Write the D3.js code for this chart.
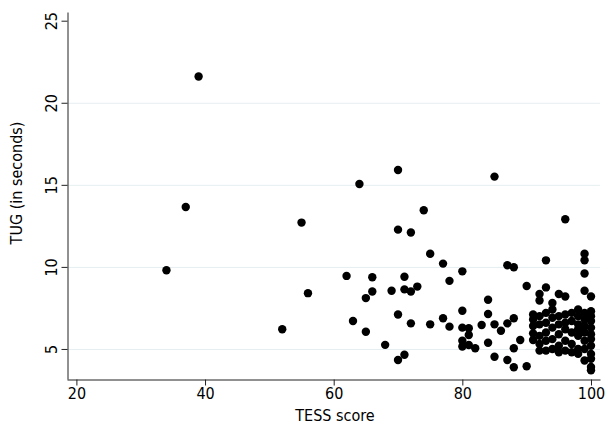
<!DOCTYPE html>
<html>
<head>
<meta charset="utf-8">
<script src="https://cdn.jsdelivr.net/npm/d3@7"></script>
<style>
  body { margin: 0; background: #fff; }
  text { font-family: "DejaVu Sans Condensed", "DejaVu Sans", sans-serif; fill: #000; }
</style>
</head>
<body>
<svg id="chart" width="610" height="425"></svg>
<script>
// TESS score (x) and TUG in seconds (y)
var tess = [34, 37, 39, 52, 55, 56, 62, 63, 64, 65, 65, 66, 66, 68, 69,
    70, 70, 70, 70, 71, 71, 71, 72, 72, 72, 73, 74, 75, 75, 77, 77, 78, 78,
    80, 80, 80, 80, 80, 81, 81, 81, 82, 83, 84, 84, 84, 85, 85, 85, 86,
    87, 87, 87, 88, 88, 88, 88, 89, 90, 90,
    91, 91, 91, 91, 91,
    92, 92, 92, 92, 92, 92, 92,
    93, 93, 93, 93, 93, 93, 93,
    94, 94, 94, 94, 94, 94,
    95, 95, 95, 95, 95, 95,
    96, 96, 96, 96, 96, 96, 96,
    97, 97, 97, 97, 97,
    98, 98, 98, 98, 98, 98, 98,
    99, 99, 99, 99, 99, 99, 99, 99, 99, 99, 99,
    100, 100, 100, 100, 100, 100, 100, 100, 100, 100, 100, 100];
var tug = [9.8, 13.65, 21.6, 6.2, 12.7, 8.4, 9.45, 6.7, 15.05, 8.1, 6.05, 9.37, 8.5, 5.25, 8.55,
    15.9, 12.27, 7.1, 4.33, 4.65, 9.4, 8.63, 12.1, 8.5, 6.56, 8.8, 13.45, 10.8, 6.5, 10.2, 6.87, 9.15, 6.36,
    9.73, 7.33, 6.3, 5.5, 5.15, 6.26, 5.85, 5.24, 5.04, 6.46, 8.0, 7.13, 5.38, 6.5, 4.53, 15.5, 6.11,
    10.1, 6.56, 4.33, 9.98, 6.87, 5.04, 3.89, 5.55, 8.84, 3.95,
    7.1, 6.8, 6.4, 5.95, 5.55,
    8.35, 7.95, 7.0, 6.5, 5.8, 5.3, 4.9,
    10.4, 8.75, 7.2, 6.6, 6.0, 5.5, 4.9,
    7.8, 7.4, 6.9, 6.3, 5.6, 5.0,
    8.35, 7.0, 6.5, 5.9, 5.2, 4.8,
    12.9, 8.2, 7.1, 6.6, 6.2, 5.5, 4.9,
    7.2, 6.7, 6.0, 5.3, 4.8,
    7.4, 7.0, 6.5, 6.2, 5.8, 5.0, 4.7,
    10.8, 10.4, 9.6, 8.55, 7.2, 6.8, 6.4, 6.0, 5.5, 5.0, 4.3,
    8.2, 7.3, 7.0, 6.7, 6.3, 5.9, 5.6, 5.2, 4.7, 4.4, 3.9, 3.7];

var xTicks = [20, 40, 60, 80, 100];
var yTicks = [5, 10, 15, 20, 25];
var yGrid = [5, 10, 15, 20];

var svg = d3.select("#chart");

var x = d3.scaleLinear().domain([18.54, 101.4]).range([67, 600]);
var y = d3.scaleLinear().domain([3.17, 25.53]).range([379, 12]);

// grid lines
svg.append("g")
    .selectAll("line")
    .data(yGrid)
    .enter()
    .append("line")
    .attr("x1", 67)
    .attr("x2", 600)
    .attr("y1", function (d) { return y(d) + 0.5; })
    .attr("y2", function (d) { return y(d) + 0.5; })
    .attr("stroke", "#e6eef1")
    .attr("stroke-width", 1);

// x axis
var xAxis = svg.append("g")
    .attr("transform", "translate(0,379.5)")
    .call(d3.axisBottom(x).tickValues(xTicks).tickSize(6).tickSizeOuter(0).tickPadding(2));

// y axis
var yAxis = svg.append("g")
    .attr("transform", "translate(67.5,0)")
    .call(d3.axisLeft(y).tickValues(yTicks).tickSize(6).tickSizeOuter(0));

svg.selectAll(".domain, .tick line").attr("stroke", "#222").attr("stroke-width", 1);
xAxis.selectAll("text").style("font-size", "16px").attr("fill", "#000");
yAxis.selectAll("text")
    .style("font-size", "16px")
    .attr("fill", "#000")
    .attr("transform", "rotate(-90)")
    .attr("x", 0)
    .attr("y", -11)
    .attr("dy", 0)
    .style("text-anchor", "middle");

// axis titles
svg.append("text")
    .attr("x", 335)
    .attr("y", 421)
    .attr("text-anchor", "middle")
    .style("font-size", "16px")
    .text("TESS score");

svg.append("text")
    .attr("transform", "translate(22,183) rotate(-90)")
    .attr("text-anchor", "middle")
    .style("font-size", "16px")
    .text("TUG (in seconds)");

// points
svg.append("g")
    .selectAll("circle")
    .data(d3.range(tess.length))
    .enter()
    .append("circle")
    .attr("cx", function (i) { return x(tess[i]); })
    .attr("cy", function (i) { return y(tug[i]); })
    .attr("r", 4.2)
    .attr("fill", "#000");
</script>
</body>
</html>
